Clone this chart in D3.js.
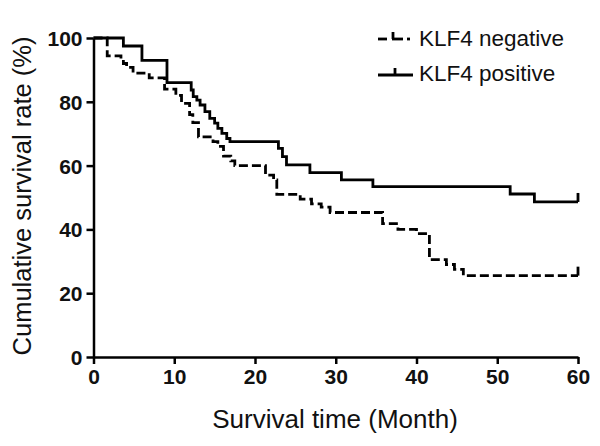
<!DOCTYPE html>
<html><head><meta charset="utf-8">
<script src="https://cdn.jsdelivr.net/npm/d3@7"></script>
<style>body{margin:0;background:#fff}svg{display:block}</style>
</head><body>
<script>
// Data (Kaplan-Meier step curves)
const negTimes = [0, 1.7, 3.4, 3.7, 4.1, 4.9, 6.9, 8.8, 10.2, 10.9, 11.9, 12.3, 13.0, 14.8, 15.4, 16.1, 17.0, 17.5, 21.3, 22.3, 22.7, 25.6, 27.0, 28.2, 29.3, 35.8, 37.7, 40.0, 41.6, 43.7, 44.7, 45.8, 60];
const negValues = [100, 94.4, 93.2, 92.0, 90.8, 89.0, 87.5, 84.0, 82.0, 79.5, 76.0, 73.5, 69.0, 67.5, 66.0, 63.0, 61.5, 60.0, 57.0, 55.5, 51.0, 49.5, 48.0, 47.0, 45.3, 41.8, 40.0, 38.7, 30.5, 29.0, 27.5, 25.5, 25.5];
const posTimes = [0, 3.7, 6.0, 9.1, 12.1, 12.35, 12.8, 13.2, 13.8, 14.4, 15.0, 15.4, 15.9, 16.5, 16.9, 22.9, 23.4, 23.9, 26.8, 30.7, 34.6, 51.6, 54.6, 60];
const posValues = [100, 97.5, 93.0, 86.0, 83.7, 81.6, 80.5, 79.0, 76.9, 74.8, 73.3, 71.7, 70.1, 68.5, 67.5, 65.4, 62.8, 60.2, 57.8, 55.5, 53.4, 51.1, 48.6, 48.6];
const negCensor = [60];
const posCensor = [60];
const xTicks = [0, 10, 20, 30, 40, 50, 60];
const yTicks = [0, 20, 40, 60, 80, 100];
const seriesNames = ["KLF4 negative", "KLF4 positive"];

const W = 600, H = 446;
const svg = d3.select("body").append("svg").attr("width", W).attr("height", H);
const x = d3.scaleLinear().domain([0, 60]).range([93.5, 578]);
const y = d3.scaleLinear().domain([0, 100]).range([357, 38]);

const font = "Arial, 'Liberation Sans', sans-serif";

// axes
const xAxis = svg.append("g").attr("transform", `translate(0,${y(0)})`)
  .call(d3.axisBottom(x).tickValues(xTicks).tickSize(7).tickPadding(5).tickSizeOuter(0));
const yAxis = svg.append("g").attr("transform", `translate(${x(0)},0)`)
  .call(d3.axisLeft(y).tickValues(yTicks).tickSize(7).tickPadding(4).tickSizeOuter(0));
[xAxis, yAxis].forEach(g => {
  g.select(".domain").attr("stroke", "#000").attr("stroke-width", 2.5);
  g.selectAll(".tick line").attr("stroke", "#000").attr("stroke-width", 2.5);
  g.selectAll(".tick text").attr("fill", "#111").style("font-family", font)
    .style("font-size", "21px").style("font-weight", "bold");
});
yAxis.selectAll(".tick text").attr("dy", "0.36em");

// axis titles
svg.append("text").attr("x", 335).attr("y", 428).attr("text-anchor", "middle")
  .style("font-family", font).style("font-size", "26px").attr("fill", "#111")
  .text("Survival time (Month)");
svg.append("text").attr("transform", `translate(31,${196}) rotate(-90)`).attr("text-anchor", "middle")
  .style("font-family", font).style("font-size", "25.5px").attr("fill", "#111")
  .text("Cumulative survival rate (%)");

// curves
const line = d3.line().x(d => x(d[0])).y(d => y(d[1])).curve(d3.curveStepAfter);
const negData = negTimes.map((t, i) => [t, negValues[i]]);
const posData = posTimes.map((t, i) => [t, posValues[i]]);
svg.append("path").datum(posData).attr("d", line).attr("fill", "none")
  .attr("stroke", "#000").attr("stroke-width", 2.8);
svg.append("path").datum(negData).attr("d", line).attr("fill", "none")
  .attr("stroke", "#000").attr("stroke-width", 2.8).attr("stroke-dasharray", "9,4");

// censor ticks
function valAt(times, vals, t) { let v = vals[0]; times.forEach((tt, i) => { if (tt <= t) v = vals[i]; }); return v; }
posCensor.forEach(t => {
  const v = valAt(posTimes, posValues, t);
  svg.append("line").attr("x1", x(t)).attr("x2", x(t)).attr("y1", y(v)).attr("y2", y(v) - 9)
    .attr("stroke", "#000").attr("stroke-width", 2.8);
});
negCensor.forEach(t => {
  const v = valAt(negTimes, negValues, t);
  svg.append("line").attr("x1", x(t)).attr("x2", x(t)).attr("y1", y(v)).attr("y2", y(v) - 9)
    .attr("stroke", "#000").attr("stroke-width", 2.8);
});

// legend
const lg = svg.append("g");
lg.append("line").attr("x1", 378).attr("x2", 387).attr("y1", 39).attr("y2", 39).attr("stroke", "#000").attr("stroke-width", 2.8);
lg.append("line").attr("x1", 392).attr("x2", 403).attr("y1", 39).attr("y2", 39).attr("stroke", "#000").attr("stroke-width", 2.8);
lg.append("line").attr("x1", 393).attr("x2", 393).attr("y1", 39).attr("y2", 32).attr("stroke", "#000").attr("stroke-width", 2.8);
lg.append("line").attr("x1", 407).attr("x2", 410).attr("y1", 39).attr("y2", 39).attr("stroke", "#000").attr("stroke-width", 2.8);
lg.append("line").attr("x1", 378).attr("x2", 413).attr("y1", 75).attr("y2", 75).attr("stroke", "#000").attr("stroke-width", 2.8);
lg.append("line").attr("x1", 395).attr("x2", 395).attr("y1", 75).attr("y2", 68).attr("stroke", "#000").attr("stroke-width", 2.8);
lg.selectAll("text.leg").data(seriesNames).enter().append("text")
  .attr("x", 419).attr("y", (d, i) => 46 + i * 35)
  .style("font-family", font).style("font-size", "22.5px").attr("fill", "#111")
  .text(d => d);
</script>
</body></html>
